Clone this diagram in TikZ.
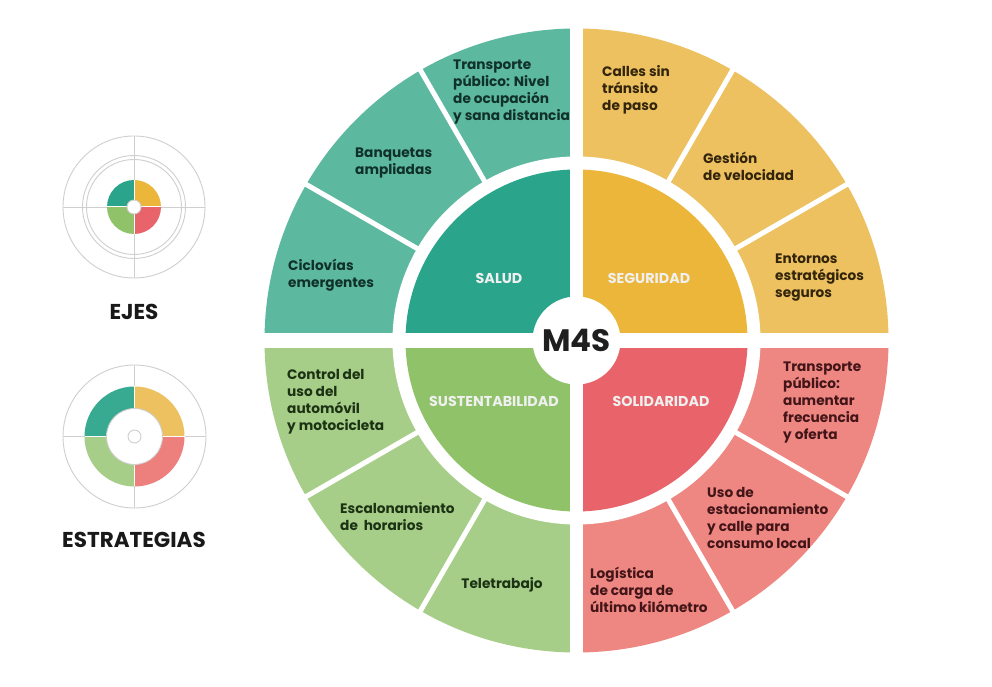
\documentclass[tikz,border=0pt]{standalone}
\usepackage{fontspec}
\setmainfont{Poppins}
\definecolor{tealO}{HTML}{5DB8A0}
\definecolor{tealI}{HTML}{2AA58C}
\definecolor{yelO}{HTML}{EDC060}
\definecolor{yelI}{HTML}{EBB63A}
\definecolor{grnO}{HTML}{A7CE88}
\definecolor{grnI}{HTML}{90C26A}
\definecolor{redO}{HTML}{EE8782}
\definecolor{redI}{HTML}{E8636A}
\definecolor{tealT}{HTML}{10312A}
\definecolor{yelT}{HTML}{33250B}
\definecolor{grnT}{HTML}{1C3214}
\definecolor{redT}{HTML}{431518}
\definecolor{iconline}{HTML}{CFCFCF}
\begin{document}
\begin{tikzpicture}[x=1pt,y=1pt,
  lbl/.style={font=\bfseries\fontsize{13.7}{17}\selectfont, align=left, anchor=west, inner sep=0pt},
  axislbl/.style={font=\bfseries\fontsize{14.3}{16}\selectfont, text=white!94!black, inner sep=0pt},
  sep/.style={white, line width=5pt},
  iconln/.style={iconline, line width=0.9pt},
  legend/.style={font=\bfseries\fontsize{21.5}{24}\selectfont, text=black!90, inner sep=0pt}
]
\useasboundingbox (0,0) rectangle (992,687);
\fill[white] (0,0) rectangle (992,687);

% ---------------- main wheel ----------------
\begin{scope}[shift={(576.5,346.5)}]
  % outer strategy ring
  \fill[yelO]  (0,0) -- (0:312)   arc (0:90:312)    -- cycle;
  \fill[tealO] (0,0) -- (90:312)  arc (90:180:312)  -- cycle;
  \fill[grnO]  (0,0) -- (180:312) arc (180:270:312) -- cycle;
  \fill[redO]  (0,0) -- (270:312) arc (270:360:312) -- cycle;
  % white ring
  \fill[white] (0,0) circle (184);
  % inner axes
  \fill[yelI]  (0,0) -- (0:171)   arc (0:90:171)    -- cycle;
  \fill[tealI] (0,0) -- (90:171)  arc (90:180:171)  -- cycle;
  \fill[grnI]  (0,0) -- (180:171) arc (180:270:171) -- cycle;
  \fill[redI]  (0,0) -- (270:171) arc (270:360:171) -- cycle;
  \draw[black!45, line width=0.8pt] (0,6.5) -- (171,6.5);
  % sector separators
  \foreach \a in {30,60,120,150,210,240,300,330}
    \draw[sep] (\a:178) -- (\a:318);
  % cross gaps
  \fill[white] (-6.5,-320) rectangle (6.5,320);
  \fill[white] (-320,-7.5) rectangle (320,7.5);
  % centre
  \fill[white] (0,0) circle (44);
  \node[font=\bfseries\fontsize{31}{33}\selectfont, text=black!88, inner sep=0pt] (m4s) at (0,0) {M4S};
\end{scope}

% axis labels
\node[axislbl] (salud) at (499,409) {SALUD};
\node[axislbl] (seguridad) at (649,409) {SEGURIDAD};
\node[axislbl] (sust) at (494,286) {SUSTENTABILIDAD};
\node[axislbl] (solid) at (661,286) {SOLIDARIDAD};

% strategy labels
\node[lbl, text=tealT] (t1) at (453,595) {Transporte\\público: Nivel\\de ocupación\\y sana distancia};
\node[lbl, text=tealT] (t2) at (355,523.5) {Banquetas\\ampliadas};
\node[lbl, text=tealT] (t3) at (288,412) {Ciclovías\\emergentes};

\node[lbl, text=yelT] (y1) at (602,597) {Calles sin\\tránsito\\de paso};
\node[lbl, text=yelT] (y2) at (703,520.5) {Gestión\\de velocidad};
\node[lbl, text=yelT] (y3) at (775,409) {Entornos\\estratégicos\\seguros};

\node[lbl, text=grnT] (g1) at (287,285) {Control del\\uso del\\automóvil\\y motocicleta};
\node[lbl, text=grnT] (g2) at (340,170.5) {Escalonamiento\\de\ \ horarios};
\node[lbl, text=grnT, anchor=center] (g3) at (502,102) {Teletrabajo};

\node[lbl, text=redT] (r1) at (783,284.5) {Transporte\\público:\\aumentar\\frecuencia\\y oferta};
\node[lbl, text=redT] (r2) at (707,169) {Uso de\\estacionamiento\\y calle para\\consumo local};
\node[lbl, text=redT] (r3) at (590,97) {Logística\\de carga de\\último kilómetro};

% ---------------- legend: EJES ----------------
\begin{scope}[shift={(134,480)}]
  \draw[iconln] (0,0) circle (71);
  \draw[iconln] (0,0) circle (51.5);
  \draw[iconln] (0,0) circle (47.5);
  \draw[iconln] (-71,0) -- (71,0);
  \draw[iconln] (0,-71) -- (0,71);
  \fill[yelI]  (0,0) -- (0:27)   arc (0:90:27)    -- cycle;
  \fill[tealI] (0,0) -- (90:27)  arc (90:180:27)  -- cycle;
  \fill[grnI]  (0,0) -- (180:27) arc (180:270:27) -- cycle;
  \fill[redI]  (0,0) -- (270:27) arc (270:360:27) -- cycle;
  \draw[white, line width=1pt] (-27,0) -- (27,0);
  \draw[white, line width=1pt] (0,-27) -- (0,27);
  \fill[white] (0,0) circle (7);
  \draw[iconln] (0,0) circle (7);
\end{scope}
\node[legend] (ejes) at (134,375) {EJES};

% ---------------- legend: ESTRATEGIAS ----------------
\begin{scope}[shift={(134.5,250.5)}]
  \draw[iconln] (0,0) circle (71.5);
  \draw[iconln] (-71.5,0) -- (71.5,0);
  \draw[iconln] (0,-71.5) -- (0,71.5);
  \fill[yelO]  (0:28)   -- (0:50)   arc (0:90:50)    -- (90:28)  arc (90:0:28)    -- cycle;
  \fill[tealI!75!tealO] (90:28) -- (90:50) arc (90:180:50) -- (180:28) arc (180:90:28) -- cycle;
  \fill[grnO]  (180:28) -- (180:50) arc (180:270:50) -- (270:28) arc (270:180:28) -- cycle;
  \fill[redO!80!redI]  (270:28) -- (270:50) arc (270:360:50) -- (360:28) arc (360:270:28) -- cycle;
  \draw[white, line width=1.2pt] (-50,0) -- (50,0);
  \draw[white, line width=1.2pt] (0,-50) -- (0,50);
  \draw[iconln] (0,0) circle (28);
  \fill[white] (0,0) circle (6.5);
  \draw[iconln] (0,0) circle (6.5);
\end{scope}
\node[legend] (estr) at (134,147) {ESTRATEGIAS};
\end{tikzpicture}
\end{document}
